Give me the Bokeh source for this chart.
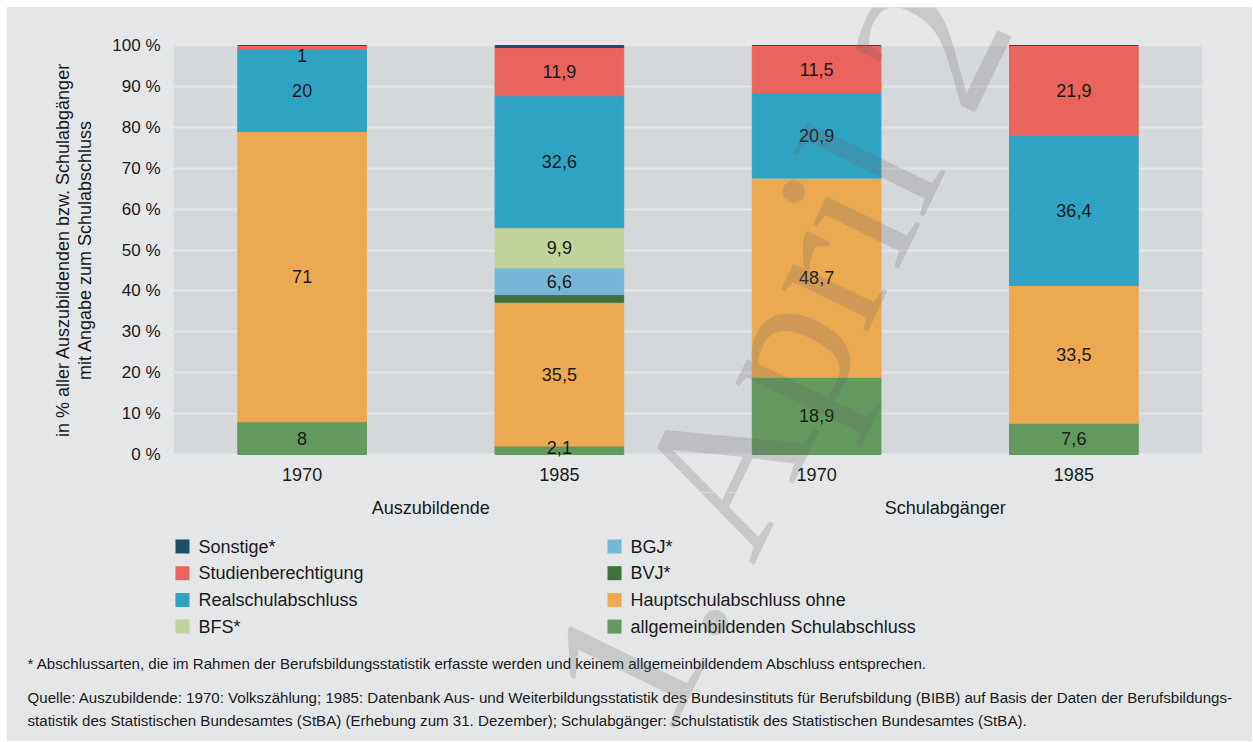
from bokeh.plotting import figure
from bokeh.layouts import column, row
from bokeh.models import (ColumnDataSource, FixedTicker, Range1d, BoxAnnotation,
                          Label, Title, PrintfTickFormatter, Spacer)
from bokeh.embed import file_html
from bokeh.resources import INLINE
from bokeh.core.properties import value

# ---------------- data ----------------
groups = ["Auszubildende", "Schulabgänger"]
years = ["1970", "1985", "1970", "1985"]
bar_group = [0, 0, 1, 1]

# stacked from bottom to top
keys = ["allgemein", "haupt", "bvj", "bgj", "bfs", "real", "studien", "sonstige"]
allgemein = [8, 2.1, 18.9, 7.6]
haupt = [71, 35.5, 48.7, 33.5]
bvj = [0, 1.9, 0, 0]
bgj = [0, 6.6, 0, 0]
bfs = [0, 9.9, 0, 0]
real = [20, 32.6, 20.9, 36.4]
studien = [1, 11.9, 11.5, 21.9]
sonstige = [0, 0.5, 0, 0]
series_values = dict(allgemein=allgemein, haupt=haupt, bvj=bvj, bgj=bgj, bfs=bfs,
                     real=real, studien=studien, sonstige=sonstige)

legend_keys = ["sonstige", "studien", "real", "bfs", "bgj", "bvj", "haupt", "allgemein"]
legend_names = ["Sonstige*", "Studienberechtigung", "Realschulabschluss", "BFS*",
                "BGJ*", "BVJ*", "Hauptschulabschluss ohne", "allgemeinbildenden Schulabschluss"]
colors = dict(sonstige="#1d4e6b", studien="#e8645c", real="#30a3c4", bfs="#c2d49c",
              bgj="#76b7d7", bvj="#3d723a", haupt="#eda852", allgemein="#63985f")
labelled = ["allgemein", "haupt", "bgj", "bfs", "real", "studien"]

y_ticks = [0, 10, 20, 30, 40, 50, 60, 70, 80, 90, 100]

footnotes = [
    "* Abschlussarten, die im Rahmen der Berufsbildungsstatistik erfasste werden und keinem allgemeinbildendem Abschluss entsprechen.",
    "Quelle: Auszubildende: 1970: Volkszählung; 1985: Datenbank Aus- und Weiterbildungsstatistik des Bundesinstituts für Berufsbildung (BIBB) auf Basis der Daten der Berufsbildungs-",
    "statistik des Statistischen Bundesamtes (StBA) (Erhebung zum 31. Dezember); Schulabgänger: Schulstatistik des Statistischen Bundesamtes (StBA).",
]
watermark = "1. April 2"

# ---------------- derived (100 % stacking) ----------------
x_pos = list(range(len(years)))
totals = [sum(series_values[k][i] for k in keys) for i in x_pos]
shares = {k: [series_values[k][i] / totals[i] * 100 for i in x_pos] for k in keys}
src = ColumnDataSource(dict(x=x_pos, **shares))
g_centers = [sum(x for x, g in zip(x_pos, bar_group) if g == gi) /
             sum(1 for g in bar_group if g == gi) for gi in range(len(groups))]

FONT = "Liberation Sans"
TXT = "#1a1a1a"
OUTER = "#e5e6e8"
PLOTBG = "#d5d8db"
OFF = 7            # white strip left / top of the grey panel
W = 1245

# page geometry: plot area (0..100 %) and the two canvases
FL, FR, FT, FB = 173, 1202, 45, 454
SPLIT = 492        # page y where upper canvas ends
BOTTOM = 741
px_x = (FR - FL) / 4.0
px_y = (FB - FT) / 100.0
def dx(page_x):
    return -0.5 + (page_x - FL) / px_x
def dy(page_y):
    return (FB - page_y) / px_y

# ---------------- upper canvas: bars + y axis ----------------
p = figure(width=W, height=SPLIT - OFF, output_backend="svg", toolbar_location=None,
           x_range=Range1d(-0.5, 3.5), y_range=Range1d(dy(SPLIT), dy(OFF)),
           min_border_left=FL - OFF, min_border_right=W - (FR - OFF),
           min_border_top=0, min_border_bottom=0,
           background_fill_color=None, border_fill_color=None, outline_line_color=None)
p.frame_align = False
p.xaxis.visible = False

# grey plot area 0..100 %
p.add_layout(BoxAnnotation(bottom=0, top=100, fill_color=PLOTBG, fill_alpha=1.0,
                           line_alpha=0, level="image"))

rends = p.vbar_stack(keys, x="x", width=0.5, source=src,
                     color=[colors[k] for k in keys])

# value labels
lx, ly, lt = [], [], []
for i in x_pos:
    bottom = 0.0
    for k in keys:
        s = shares[k][i]
        if k in labelled and s > 0:
            mid = bottom + s / 2
            mid = min(max(mid, 1.7), 97.6)
            lx.append(i)
            ly.append(mid)
            lt.append(f"{series_values[k][i]:g}".replace(".", ","))
        bottom += s
p.text(x=lx, y=ly, text=lt, text_align="center", text_baseline="middle",
       text_font=value(FONT), text_font_size="18px", text_color=TXT)

# category (year) labels under the bars
p.text(x=x_pos, y=[dy(474)] * len(x_pos), text=years, text_align="center",
       text_baseline="middle", text_font=value(FONT), text_font_size="18px", text_color=TXT)

# grid
p.xgrid.visible = False
p.ygrid.ticker = FixedTicker(ticks=y_ticks)
p.ygrid.grid_line_color = OUTER
p.ygrid.grid_line_width = 2

# y axis
ya = p.yaxis[0]
ya.ticker = FixedTicker(ticks=y_ticks)
ya.formatter = PrintfTickFormatter(format="%d %%")
ya.axis_line_color = None
ya.major_tick_line_color = None
ya.minor_tick_line_color = None
ya.major_tick_out = 0
ya.major_tick_in = 0
ya.major_label_standoff = 13
ya.major_label_text_font = FONT
ya.major_label_text_font_size = "17px"
ya.major_label_text_color = TXT
ya.axis_label = "mit Angabe zum Schulabschluss"
ya.axis_label_text_font = FONT
ya.axis_label_text_font_size = "18px"
ya.axis_label_text_font_style = "normal"
ya.axis_label_text_color = TXT
ya.axis_label_standoff = 14

p.add_layout(Title(text="in % aller Auszubildenden bzw. Schulabgänger", align="center",
                   text_font=FONT, text_font_size="18px", text_font_style="normal",
                   text_color=TXT, standoff=0), "left")

WM_X, WM_Y = 602, 713
wm_style = dict(text=watermark, angle=64, angle_units="deg",
                text_font="Liberation Serif", text_font_size="210px",
                text_color="#646464", text_alpha=0.22, text_baseline="alphabetic",
                text_align="left")
p.add_layout(Label(x=dx(WM_X), y=dy(WM_Y), **wm_style))

# ---------------- lower canvas: group labels, legend, footnotes ----------------
q = figure(width=W, height=BOTTOM - SPLIT, output_backend="svg", toolbar_location=None,
           x_range=Range1d(dx(OFF), dx(OFF + W)), y_range=Range1d(BOTTOM, SPLIT),
           min_border=0, background_fill_color=None, border_fill_color=None,
           outline_line_color=None)
q.frame_align = False
q.axis.visible = False
q.grid.visible = False

q.text(x=g_centers, y=[507] * len(g_centers), text=groups, text_align="center",
       text_baseline="middle", text_font=value(FONT), text_font_size="18px", text_color=TXT)

n_rows = 4
sw_px = [182 + (j // n_rows) * 432 for j in range(len(legend_keys))]
sw_y = [546 + (j % n_rows) * 26.7 for j in range(len(legend_keys))]
q.scatter(x=[dx(v) for v in sw_px], y=sw_y, marker="square", size=14,
          fill_color=[colors[k] for k in legend_keys], line_color=None)
q.text(x=[dx(v + 16) for v in sw_px], y=sw_y, text=legend_names, text_align="left",
       text_baseline="middle", text_font=value(FONT), text_font_size="18px", text_color=TXT)

q.text(x=[dx(27)] * len(footnotes), y=[663, 697, 720], text=footnotes, text_align="left",
       text_baseline="middle", text_font=value(FONT), text_font_size="15.1px", text_color=TXT)

q.add_layout(Label(x=dx(WM_X), y=WM_Y, **wm_style))

panel = column(p, q, spacing=0, styles={"background-color": OUTER})
layout = column(Spacer(height=OFF),
                row(Spacer(width=OFF), panel, spacing=0),
                spacing=0)
open("out.html", "w").write(file_html(layout, INLINE))
